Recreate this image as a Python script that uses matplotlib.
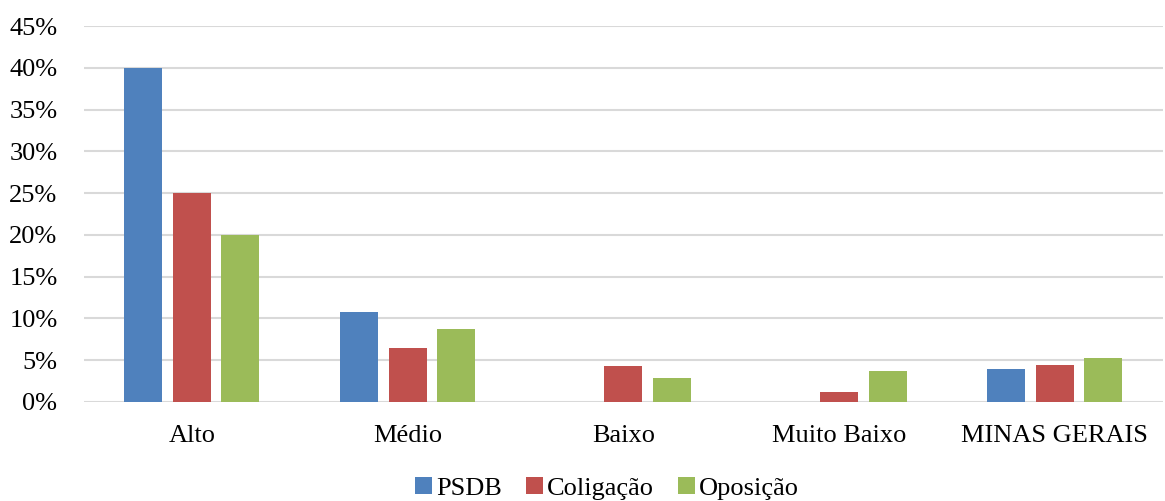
import matplotlib.pyplot as plt
import numpy as np
from matplotlib.ticker import FuncFormatter

categories = ['Alto', 'Médio', 'Baixo', 'Muito Baixo', 'MINAS GERAIS']
series = ['PSDB', 'Coligação', 'Oposição']
psdb = [40.0, 10.8, 0.0, 0.0, 3.9]
coligacao = [25.0, 6.4, 4.3, 1.2, 4.4]
oposicao = [20.0, 8.7, 2.8, 3.7, 5.2]
colors = ['#4f81bd', '#c0504d', '#9bbb59']

plt.rcParams['font.family'] = ['Liberation Serif', 'DejaVu Serif']
plt.rcParams['font.size'] = 19

fig = plt.figure(figsize=(11.65, 5.01), dpi=100)
ax = fig.add_axes([0.072, 0.198, 0.926, 0.75])

x = np.arange(len(categories))
width = 0.176
step = 0.225
for i, (name, vals) in enumerate(zip(series, [psdb, coligacao, oposicao])):
    ax.bar(x + (i - 1) * step, vals, width, color=colors[i], label=name, zorder=3)

ax.set_xlim(-0.5, len(categories) - 0.5)
ax.set_ylim(0, 45)
ax.set_yticks(range(0, 46, 5))
ax.yaxis.set_major_formatter(FuncFormatter(lambda v, p: '%d%%' % v))
ax.set_xticks(x)
ax.set_xticklabels(categories)
ax.grid(axis='y', color='#d9d9d9', linewidth=1.5, zorder=0)
for s in ax.spines.values():
    s.set_visible(False)
ax.tick_params(axis='both', length=0, colors='black')
ax.tick_params(axis='x', pad=17)
ax.tick_params(axis='y', pad=19)

fig.legend(loc='lower center', bbox_to_anchor=(0.521, -0.045), ncol=3, frameon=False,
           handlelength=0.65, handleheight=0.65, handletextpad=0.15, columnspacing=0.9)

fig.savefig('out.png', dpi=100)
